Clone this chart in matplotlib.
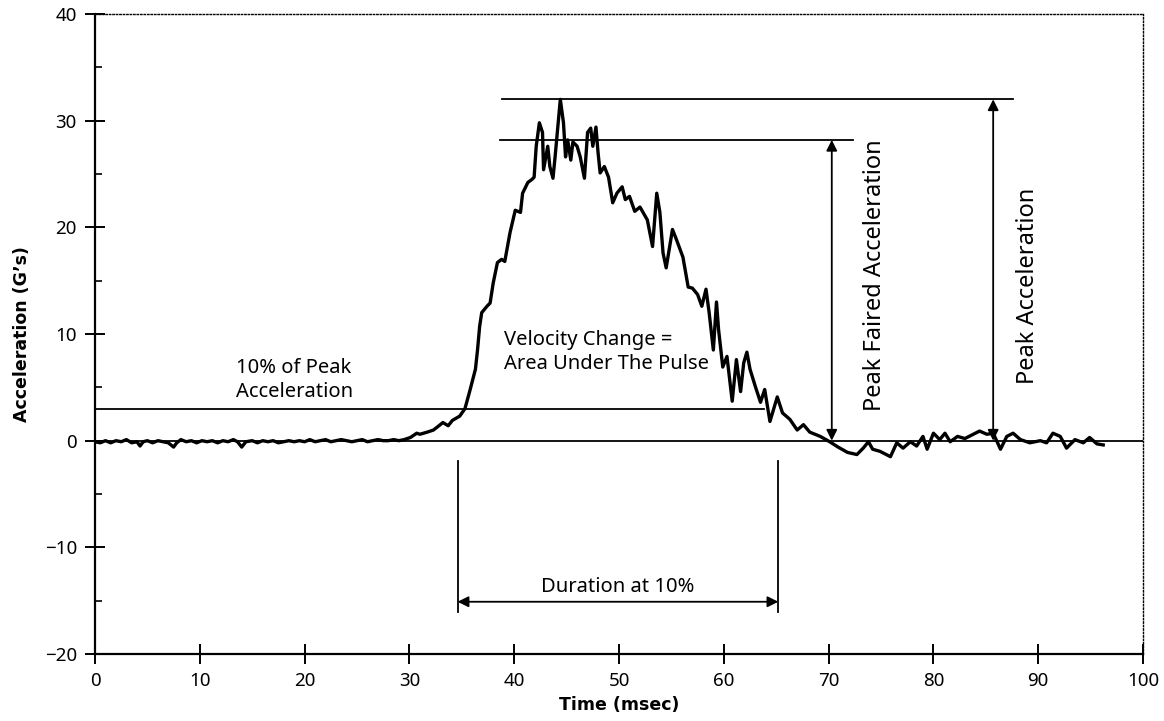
import numpy as np
import matplotlib.pyplot as plt
from matplotlib.ticker import MultipleLocator

plt.rcParams['font.family'] = ['Noto Sans', 'DejaVu Sans']

# baseline noise before the pulse (msec, G's)
t_pre = [0.0, 0.5, 1.0, 1.5, 2.0, 2.5, 3.0, 3.5, 4.0, 4.3, 4.6, 5.0, 5.5, 6.0, 6.5,
         7.0, 7.5, 7.8, 8.2, 8.7, 9.2, 9.7, 10.2, 10.7, 11.2, 11.7, 12.2, 12.7, 13.2,
         13.6, 14.0, 14.4, 15.0, 15.5, 16.0, 16.5, 17.0, 17.5, 18.0, 18.5, 19.0,
         19.5, 20.0, 20.5, 21.0, 21.5, 22.0, 22.5, 23.0, 23.5, 24.0, 24.5, 25.0,
         25.5, 26.0, 26.5, 27.0, 27.5, 28.0, 28.5, 29.0, 29.5]
a_pre = [-0.1, -0.2, 0.0, -0.2, 0.0, -0.1, 0.1, -0.2, -0.1, -0.5, -0.1, 0.0, -0.2,
         0.0, -0.1, -0.2, -0.6, -0.2, 0.1, -0.1, 0.0, -0.2, 0.0, -0.1, 0.0, -0.2,
         0.0, -0.1, 0.1, -0.1, -0.6, -0.1, 0.0, -0.2, 0.0, -0.1, 0.0, -0.2, -0.1,
         0.0, -0.1, 0.0, -0.1, 0.1, -0.1, 0.0, 0.1, -0.1, 0.0, 0.1, 0.0, -0.1, 0.0,
         0.1, -0.1, 0.0, 0.1, 0.0, 0.0, 0.1, 0.0, 0.1]

# pulse and tail
t_pulse = [30.1, 30.7, 31.0, 31.7, 32.3, 33.2, 33.7, 34.1, 34.8, 35.3, 35.8, 36.3,
           36.5, 36.7, 36.9, 37.4, 37.7, 38.0, 38.4, 38.8, 39.1, 39.6, 40.1, 40.6,
           40.8, 41.3, 41.7, 41.9, 42.1, 42.4, 42.7, 42.8, 43.2, 43.4, 43.7, 43.9,
           44.4, 44.7, 44.9, 45.1, 45.4, 45.6, 46.0, 46.3, 46.7, 47.0, 47.3, 47.5,
           47.8, 48.0, 48.2, 48.6, 49.0, 49.4, 49.8, 50.3, 50.6, 51.0, 51.5, 52.0,
           52.7, 53.2, 53.6, 53.9, 54.2, 54.5, 55.1, 55.5, 56.1, 56.6, 57.0, 57.5,
           57.9, 58.3, 58.6, 59.0, 59.3, 59.5, 59.9, 60.3, 60.8, 61.2, 61.6, 61.9,
           62.2, 62.5, 63.0, 63.5, 63.9, 64.4, 65.1, 65.6, 66.3, 67.0, 67.6, 68.2,
           69.2, 70.1, 70.9, 71.8, 72.7, 73.3, 73.8, 74.2, 74.9, 75.9, 76.5, 77.1,
           77.8, 78.4, 79.0, 79.4, 80.0, 80.6, 81.1, 81.6, 82.3, 83.0, 83.8, 84.4,
           85.1, 85.7, 86.4, 87.0, 87.6, 88.3, 89.2, 90.2, 90.8, 91.4, 92.1, 92.7,
           93.5, 94.3, 94.9, 95.6, 96.2]
a_pulse = [0.3, 0.7, 0.6, 0.8, 1.0, 1.7, 1.4, 1.9, 2.3, 3.0, 4.8, 6.7,
           8.5, 10.7, 12.0, 12.6, 12.9, 14.8, 16.7, 17.0, 16.8, 19.5, 21.6, 21.4,
           23.2, 24.2, 24.5, 24.7, 27.6, 29.8, 28.9, 25.4, 27.6, 25.7, 24.6, 26.6,
           32.0, 29.8, 26.6, 28.2, 26.3, 28.0, 27.6, 26.6, 24.6, 28.9, 29.3, 27.6,
           29.4, 27.0, 25.1, 25.7, 24.7, 22.3, 23.2, 23.8, 22.6, 22.9, 21.5, 21.9,
           20.7, 18.2, 23.2, 21.4, 17.6, 16.2, 19.8, 18.8, 17.2, 14.4, 14.3, 13.7,
           12.6, 14.2, 12.0, 8.5, 13.0, 10.4, 6.9, 7.9, 3.7, 7.6, 4.6, 7.3,
           8.3, 6.7, 5.1, 3.6, 4.8, 1.8, 4.1, 2.6, 2.0, 1.0, 1.5, 0.8,
           0.4, -0.1, -0.6, -1.1, -1.3, -0.7, -0.1, -0.8, -1.0, -1.5, -0.2, -0.7,
           -0.1, -0.5, 0.4, -0.8, 0.7, 0.1, 0.7, -0.1, 0.4, 0.2, 0.6, 0.9,
           0.6, 0.7, -0.8, 0.4, 0.7, 0.1, -0.2, 0.0, -0.2, 0.7, 0.4, -0.7,
           0.1, -0.2, 0.3, -0.3, -0.4]

time = t_pre + t_pulse
accel = a_pre + a_pulse

# annotation values
peak = 32.0
peak_faired = 28.2
ten_pct = 3.0
t_start, t_end = 34.6, 65.2

fig = plt.figure(figsize=(11.64, 7.21), dpi=100)
ax = fig.add_axes([0.0816, 0.0929, 0.9004, 0.8877])

ax.plot(time, accel, color='black', lw=2.4, solid_joinstyle='round', zorder=3)

# reference lines
ax.plot([0, 100], [0, 0], color='black', lw=1.3)
ax.plot([0, 63.8], [ten_pct, ten_pct], color='black', lw=1.3)
ax.plot([38.8, 87.6], [peak, peak], color='black', lw=1.3)
ax.plot([38.6, 72.3], [peak_faired, peak_faired], color='black', lw=1.3)
ax.plot([t_start, t_start], [-1.95, -16.1], color='black', lw=1.3)
ax.plot([t_end, t_end], [-1.95, -16.1], color='black', lw=1.3)

arrow = dict(arrowstyle='<|-|>', color='black', lw=1.3, mutation_scale=16,
             shrinkA=0, shrinkB=0)
ax.annotate('', xy=(70.3, peak_faired), xytext=(70.3, 0), arrowprops=arrow)
ax.annotate('', xy=(85.7, peak), xytext=(85.7, 0), arrowprops=arrow)
ax.annotate('', xy=(t_start, -15.1), xytext=(t_end, -15.1), arrowprops=arrow)

ax.text(49.9, -13.7, 'Duration at 10%', ha='center', va='center', fontsize=14.5)
ax.text(39.0, 8.3, 'Velocity Change =\nArea Under The Pulse', ha='left', va='center',
        fontsize=14.5, linespacing=1.25)
ax.text(13.5, 5.7, '10% of Peak\nAcceleration', ha='left', va='center',
        fontsize=14.5, linespacing=1.25)
ax.text(74.4, 15.5, 'Peak Faired Acceleration', rotation=90, ha='center',
        va='center', fontsize=17)
ax.text(89.0, 14.5, 'Peak Acceleration', rotation=90, ha='center', va='center',
        fontsize=17)

ax.set_xlim(0, 100)
ax.set_ylim(-20, 40)
ax.xaxis.set_major_locator(MultipleLocator(10))
ax.yaxis.set_major_locator(MultipleLocator(10))
ax.yaxis.set_minor_locator(MultipleLocator(5))
ax.tick_params(which='major', direction='inout', length=14, width=1.4,
               labelsize=13.5, pad=6)
ax.tick_params(axis='y', which='minor', direction='in', length=5, width=1.2)

for s in ['left', 'bottom']:
    ax.spines[s].set_linewidth(1.6)
for s in ['top', 'right']:
    ax.spines[s].set_linestyle((0, (1, 1.5)))
    ax.spines[s].set_linewidth(1.0)

ax.set_xlabel('Time (msec)', fontsize=12.5, fontweight='bold', family='DejaVu Sans',
              labelpad=4)
ax.set_ylabel('Acceleration (G\u2019s)', fontsize=12.5, fontweight='bold',
              family='DejaVu Sans', labelpad=10)

fig.savefig('out.png', dpi=100)
